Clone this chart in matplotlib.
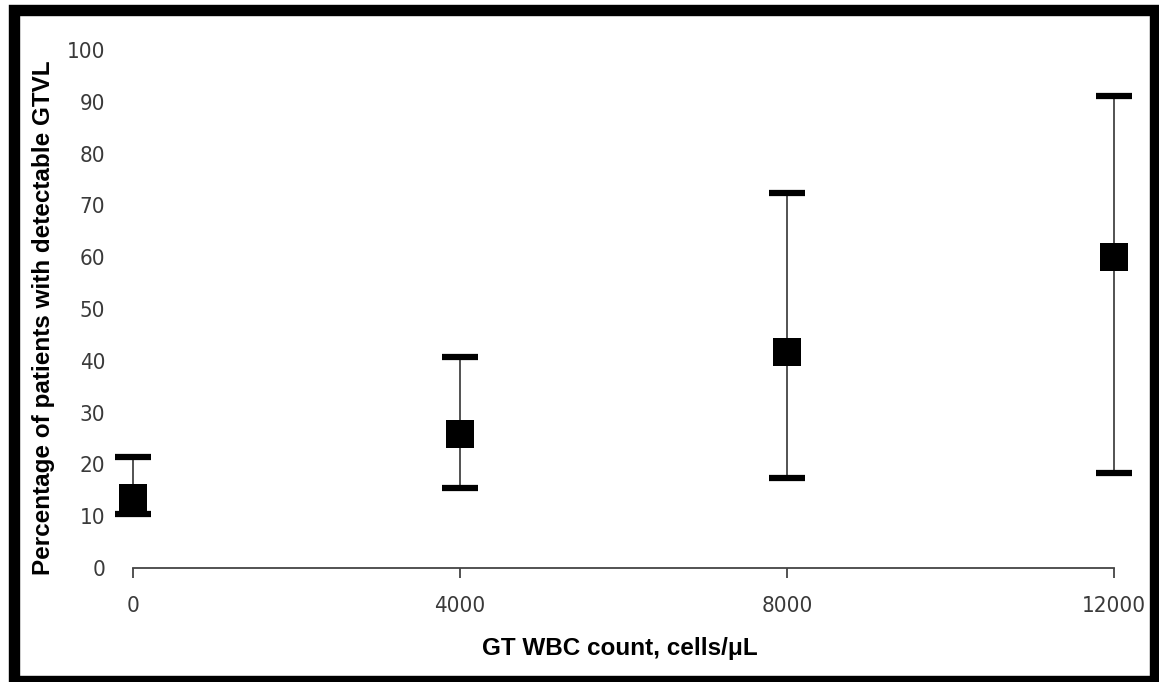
import matplotlib
matplotlib.use("Agg")
import matplotlib.pyplot as plt
from matplotlib import font_manager
from matplotlib.patches import Rectangle

# GT WBC count vs % patients with detectable GTVL
wbc = [0, 4000, 8000, 12000]
pct = [13.5, 25.9, 41.7, 60.0]
ci_low = [10.4, 15.4, 17.4, 18.3]
ci_high = [21.4, 40.7, 72.4, 91.1]

x_ticks = [0, 4000, 8000, 12000]
y_ticks = list(range(0, 101, 10))

# narrow font for tick labels if there is one
narrow = None
for f in font_manager.fontManager.ttflist:
    n = (f.name + ' ' + f.fname).lower()
    if ('narrow' in n or 'condensed' in n) and f.weight in (400, 'normal', 'regular') \
            and f.style == 'normal' and 'mono' not in n and 'serif' not in n.replace('sans', ''):
        narrow = f.fname
        break
if narrow:
    tick_fp = font_manager.FontProperties(fname=narrow, size=16)
else:
    tick_fp = font_manager.FontProperties(family='DejaVu Sans', size=14)

W, H = 1159, 682
fig = plt.figure(figsize=(W / 100, H / 100), dpi=100)
fig.patch.set_facecolor('white')

# thick black frame round the figure
fig.patches.append(Rectangle((14 / W, 1 / H), 1141 / W, 671 / H, transform=fig.transFigure,
                             fill=False, edgecolor='black', linewidth=8.2))

ax = fig.add_axes([133 / W, (H - 568) / H, (1114 - 133) / W, 518 / H])

err_lo = [p - l for p, l in zip(pct, ci_low)]
err_hi = [h - p for p, h in zip(pct, ci_high)]

# whiskers
ax.errorbar(wbc, pct, yerr=[err_lo, err_hi], fmt='none', ecolor='#444444',
            elinewidth=1.3, capsize=0, clip_on=False, zorder=2)
# caps
ax.scatter(wbc, ci_low, marker='_', s=640, linewidths=4.5, color='black', clip_on=False, zorder=3)
ax.scatter(wbc, ci_high, marker='_', s=640, linewidths=4.5, color='black', clip_on=False, zorder=3)
# means
ax.scatter(wbc, pct, marker='s', s=410, linewidths=0, color='black', clip_on=False, zorder=4)

ax.set_xlim(0, 12000)
ax.set_ylim(0, 100)
ax.set_xticks(x_ticks)
ax.set_yticks(y_ticks)

for s in ['top', 'right', 'left']:
    ax.spines[s].set_visible(False)
ax.spines['bottom'].set_color('#444444')
ax.spines['bottom'].set_linewidth(1.3)

ax.set_xticklabels([str(v) for v in x_ticks], fontproperties=tick_fp, color='#3a3a3a')
ax.set_yticklabels([str(v) for v in y_ticks], fontproperties=tick_fp, color='#3a3a3a')
ax.tick_params(axis='x', length=7, width=1.3, color='#444444', pad=13)
ax.tick_params(axis='y', length=0, pad=20)

fig.text(620 / W, 1 - 648 / H, 'GT WBC count, cells/μL', ha='center', va='center',
         fontsize=17.5, fontweight='bold', family=['Liberation Sans', 'DejaVu Sans'])
fig.text(44 / W, 1 - 318 / H, 'Percentage of patients with detectable GTVL', ha='center',
         va='center', rotation=90, fontsize=17.5, fontweight='bold',
         family=['Liberation Sans', 'DejaVu Sans'])

fig.savefig('out.png', dpi=100)
